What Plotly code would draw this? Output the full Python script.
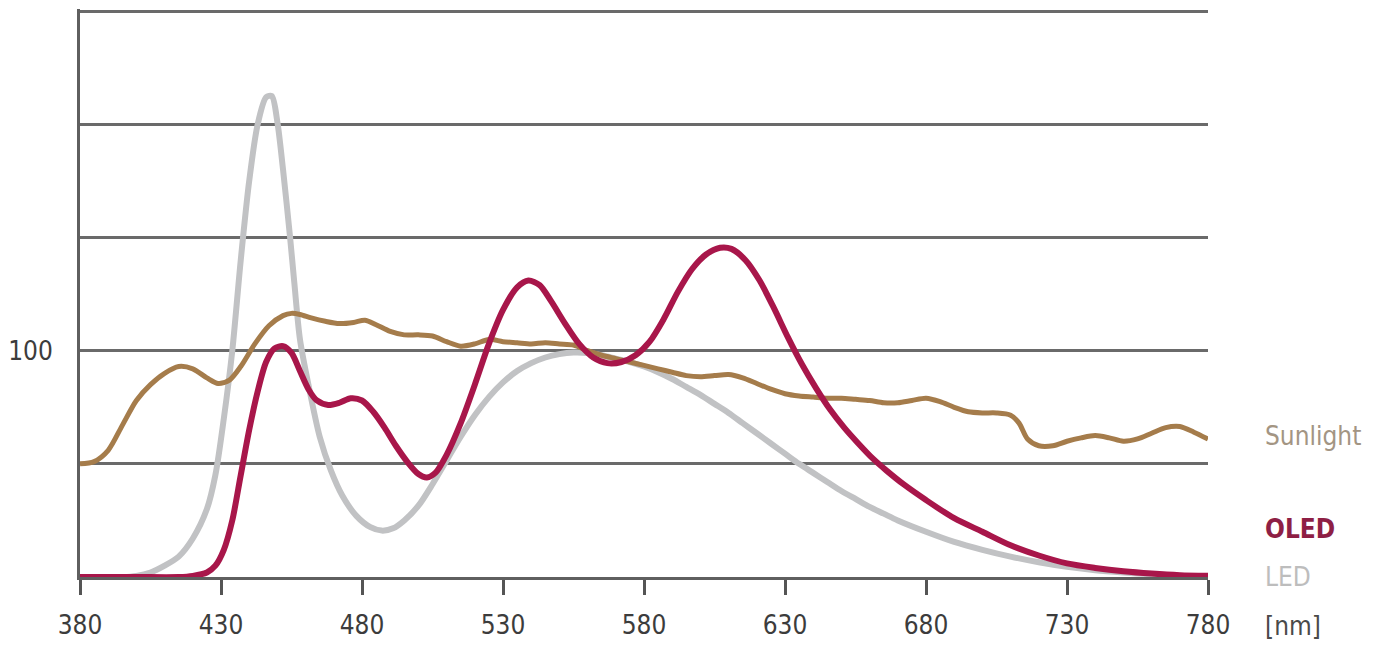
import plotly.graph_objects as go

# Wavelength grid values (nm) and relative intensities
led_nm = [380, 395, 400, 405, 410, 415, 420, 425, 428, 431, 434, 437, 440, 443, 446, 448, 450, 452,
          454.5, 456, 458, 461, 465, 469, 473, 478, 483, 487, 491, 495, 500, 505, 510, 515, 520, 525,
          530, 535, 540, 545, 550, 555, 560, 565, 570, 575, 580, 585, 590, 595, 600, 605, 610, 615,
          620, 625, 630, 635, 640, 645, 650, 655, 660, 665, 670, 680, 690, 700, 710, 720, 730, 740,
          750, 760, 770, 780]
led_val = [0, 0, 0.5, 2, 5, 9, 17, 30, 45, 70, 100, 140, 175, 200, 212, 212.5, 201, 180,
           150, 130, 105, 85, 62, 47, 36, 27, 22, 20.5, 21.5, 25, 31.5, 41, 51.5, 62, 71.5, 79.5,
           86, 91, 94.5, 97, 98.5, 99.2, 99, 98, 96.5, 95, 93, 90.5, 87.5, 84, 80.5, 76.5, 72.5, 68,
           63.5, 59, 54.5, 50, 46, 42, 38, 34.5, 31, 28, 25, 20, 15.5, 12, 9, 6.5, 4.5, 3,
           2, 1.2, 0.6, 0.3]

oled_nm = [380, 400, 415, 420, 425, 428, 431, 434, 437, 440, 443, 446, 449, 452, 455, 458, 461,
           464, 468, 472, 476, 480, 484, 488, 492, 496, 500, 503, 506, 510, 515, 520, 525, 530,
           535, 539, 543, 547, 552, 557, 562, 567, 572, 577, 582, 587, 592, 597, 602, 607, 611,
           616, 621, 626, 631, 636, 641, 646, 651, 656, 661, 666, 672, 680, 690, 700, 710, 720,
           730, 740, 750, 760, 770, 780]
oled_val = [0, 0, 0, 0.5, 2, 5, 12, 25, 45, 65, 82, 95, 101, 102, 99, 91, 83,
            78, 76, 77, 79, 78, 73, 66, 58, 51, 45.5, 44, 46, 54, 68, 85, 103, 118,
            128, 131, 129, 122, 112, 103, 97, 94.5, 95, 98, 104, 114, 126, 136, 142.5, 145.5, 145,
            140, 131, 119, 106, 94, 83.5, 74, 66, 59, 52.5, 47, 41, 34, 26, 20, 14, 9.5,
            6, 4, 2.5, 1.5, 0.8, 0.5]

sun_nm = [380, 385, 390, 395, 400, 405, 410, 415, 420, 425, 429, 433, 437, 442, 447, 452, 455,
          458, 462, 467, 472, 477, 481, 485, 490, 495, 500, 505, 510, 515, 520, 525, 530, 535,
          540, 545, 550, 555, 560, 565, 570, 575, 580, 585, 590, 595, 600, 605, 610, 615, 620,
          625, 630, 635, 640, 645, 650, 655, 660, 665, 670, 675, 680, 685, 690, 695, 700, 705,
          710, 713, 716, 720, 725, 730, 735, 740, 745, 750, 755, 760, 765, 770, 775, 780]
sun_val = [50, 51, 56, 67, 78, 85, 90, 93, 92, 88, 85.5, 87, 93, 103, 111, 115.5, 116.5,
           116, 114.5, 113, 112, 112.5, 113.5, 111.5, 108.5, 107, 107, 106.5, 104, 102, 103, 105, 104, 103.5,
           103, 103.5, 103, 102.5, 100, 98, 96.5, 95, 93.5, 92, 90.5, 89, 88.5, 89, 89.5, 88, 85.5,
           83, 81, 80, 79.5, 79, 79, 78.5, 78, 77, 77, 78, 79, 77.5, 75, 73, 72.5, 72.5,
           71.5, 68, 61, 58, 58, 60, 61.5, 62.5, 61.5, 60, 61, 63.5, 66, 66.5, 64, 61]

x_ticks = [380, 430, 480, 530, 580, 630, 680, 730, 780]
y_grid = [50, 100, 150, 200, 250]
y_text = ["", "100", "", "", ""]
Y_MAX = 251

FONT = "DejaVu Sans Condensed, Liberation Sans Narrow, Roboto, sans-serif"

fig = go.Figure()
fig.add_trace(go.Scatter(x=led_nm, y=led_val, mode="lines", name="LED",
                         line=dict(color="#c1c2c4", width=6, shape="spline", smoothing=0.8),
                         cliponaxis=False))
fig.add_trace(go.Scatter(x=sun_nm, y=sun_val, mode="lines", name="Sunlight",
                         line=dict(color="#a57c4b", width=5, shape="spline", smoothing=0.8),
                         cliponaxis=False))
fig.add_trace(go.Scatter(x=oled_nm, y=oled_val, mode="lines", name="OLED",
                         line=dict(color="#a8164a", width=6, shape="spline", smoothing=0.8),
                         cliponaxis=False))

LABEL_X = 1 + (1263 - 1208) / 1128
labels = [("Sunlight", 62.5, "#a39583", False),
          ("OLED", 21, "#8e1f45", True),
          ("LED", 0, "#bdbdbd", False),
          ("[nm]", -21.5, "#4a4a4a", False)]
for txt, yv, col, bold in labels:
    fig.add_annotation(x=LABEL_X, y=yv / Y_MAX, xref="paper", yref="paper",
                       text=f"<b>{txt}</b>" if bold else txt,
                       showarrow=False, xanchor="left", yanchor="middle",
                       font=dict(family=FONT, size=26, color=col))

# page body has an 8px margin, so the figure is sized/offset to compensate
fig.update_layout(
    width=1365, height=641,
    margin=dict(l=72, r=165, t=1, b=72, autoexpand=False),
    paper_bgcolor="white", plot_bgcolor="white",
    showlegend=False,
    font=dict(family=FONT, size=26, color="#3c3c3c"),
    xaxis=dict(range=[380, 780], tickvals=x_ticks, ticks="outside", ticklen=15, tickwidth=3,
               tickcolor="#555555", showline=True, linecolor="#5f5f5f", linewidth=3,
               showgrid=False, zeroline=False, ticklabelstandoff=8, automargin=False,
               tickfont=dict(family=FONT, size=26, color="#3c3c3c")),
    yaxis=dict(range=[0, Y_MAX], tickvals=y_grid, ticktext=y_text, ticks="",
               showline=True, linecolor="#5f5f5f", linewidth=3,
               showgrid=True, gridcolor="#6a6a6a", gridwidth=2.5, zeroline=False,
               ticklabelstandoff=19, automargin=False,
               tickfont=dict(family=FONT, size=26, color="#3c3c3c")),
)

fig.write_html("out.html")
